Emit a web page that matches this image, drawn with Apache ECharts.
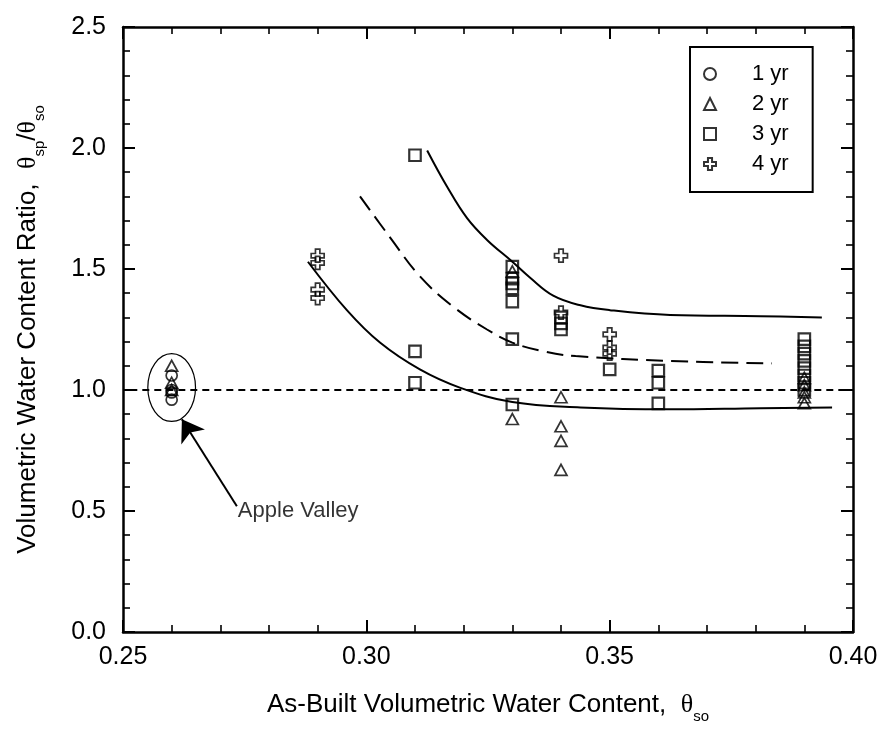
<!DOCTYPE html>
<html>
<head>
<meta charset="utf-8">
<script src="https://cdn.jsdelivr.net/npm/echarts@6/dist/echarts.min.js"></script>
<style>html,body{margin:0;padding:0;background:#fff}#c{width:888px;height:729px}</style>
</head>
<body>
<div id="c"></div>
<script>
// ---- data ----
const xTicks = [0.25, 0.30, 0.35, 0.40];
const yTicks = [0.0, 0.5, 1.0, 1.5, 2.0, 2.5];
const seriesNames = ['1 yr', '2 yr', '3 yr', '4 yr'];

const oneYr = [[0.26,1.06],[0.26,1.00],[0.26,0.99],[0.26,0.96]];
const twoYr = [[0.26,1.10],[0.26,1.03],[0.26,1.00],
  [0.33,1.49],[0.33,0.88],
  [0.34,0.97],[0.34,0.85],[0.34,0.79],[0.34,0.67],
  [0.39,1.05],[0.39,1.02],[0.39,0.99],[0.39,0.97],[0.39,0.945]];
const threeYr = [[0.31,1.97],[0.31,1.16],[0.31,1.03],
  [0.33,1.51],[0.33,1.46],[0.33,1.44],[0.33,1.42],[0.33,1.365],[0.33,1.21],[0.33,0.94],
  [0.34,1.30],[0.34,1.275],[0.34,1.25],
  [0.35,1.085],
  [0.36,1.08],[0.36,1.03],[0.36,0.945],
  [0.39,1.21],[0.39,1.18],[0.39,1.15],[0.39,1.12],[0.39,1.09],[0.39,1.06],[0.39,1.03],[0.39,1.00]];
const fourYr = [[0.29,1.555],[0.29,1.525],[0.29,1.415],[0.29,1.38],
  [0.34,1.555],[0.34,1.32],
  [0.35,1.23],[0.35,1.175],[0.35,1.15]];

const upperCurve = [[0.3125,1.99],[0.3166,1.84],[0.3207,1.71],[0.3248,1.62],[0.33,1.53],[0.3336,1.465],
  [0.3384,1.39],[0.344,1.35],[0.35,1.33],[0.3624,1.31],[0.381,1.305],[0.3936,1.30]];
const middleCurve = [[0.2987,1.80],[0.3049,1.63],[0.311,1.47],[0.3178,1.345],[0.3248,1.25],[0.33,1.196],
  [0.3363,1.16],[0.343,1.14],[0.3624,1.12],[0.3833,1.11]];
const lowerCurve = [[0.288,1.53],[0.296,1.33],[0.3028,1.196],[0.311,1.085],[0.3192,1.01],[0.33,0.95],
  [0.344,0.928],[0.362,0.92],[0.381,0.925],[0.3957,0.928]];
const unityLine = [[0.2515,1.0],[0.3977,1.0]];

const ellipse = [[0.26, 1.01, 0.0049, 0.14]];   // cx, cy, rx, ry (data units)
const arrow = [[0.2734, 0.52], [0.2621, 0.879]];
const annotation = [[0.2736, 0.50, 'Apple Valley']];

// ---- chart ----
const FONT = 'Liberation Sans, Arial, sans-serif';
const chart = echarts.init(document.getElementById('c'), null, {renderer: 'canvas'});
const crossPath = 'path://M3.3,0 H6.7 V3.3 H10 V6.7 H6.7 V10 H3.3 V6.7 H0 V3.3 H3.3 Z';
const markerStyle = {color: 'rgba(0,0,0,0)', borderColor: '#000', borderWidth: 1.7};

function axisCommon(extra) {
  return Object.assign({
    type: 'value',
    axisLine: {show: true, onZero: false, lineStyle: {color: '#000', width: 2.5}},
    axisTick: {show: true, inside: true, length: 12, lineStyle: {color: '#000', width: 2}},
    minorTick: {show: true, splitNumber: 5, length: 7, lineStyle: {color: '#000', width: 1.6}},
    splitLine: {show: false},
    minorSplitLine: {show: false}
  }, extra);
}
const richName = {
  t: {fontFamily: 'Liberation Serif, serif', fontSize: 26, lineHeight: 38, color: '#000'},
  s: {fontSize: 15, lineHeight: 15, verticalAlign: 'bottom', color: '#000', fontFamily: FONT}
};

const option = {
  backgroundColor: '#fff',
  animation: false,
  textStyle: {fontFamily: FONT},
  grid: {left: 123, right: 35, top: 27, bottom: 96, containLabel: false},
  legend: {
    data: seriesNames,
    orient: 'vertical',
    left: 690, top: 47,
    padding: [16, 24, 17, 13],
    itemGap: 8,
    itemWidth: 12, itemHeight: 12,
    borderColor: '#000', borderWidth: 2,
    textStyle: {fontFamily: FONT, fontSize: 22, color: '#000', padding: [0, 0, 0, 31]}
  },
  xAxis: [
    axisCommon({
      min: xTicks[0], max: xTicks[xTicks.length - 1], interval: 0.05, position: 'bottom',
      axisLabel: {color: '#000', fontSize: 25, fontFamily: FONT, margin: 13, formatter: v => v.toFixed(2)},
      name: 'As-Built Volumetric Water Content,  {t|θ}{s|so}',
      nameLocation: 'middle', nameGap: 54,
      nameTextStyle: {color: '#000', fontSize: 26, fontFamily: FONT, lineHeight: 38, rich: richName}
    }),
    axisCommon({
      min: xTicks[0], max: xTicks[xTicks.length - 1], interval: 0.05, position: 'top',
      axisLabel: {show: false}
    })
  ],
  yAxis: [
    axisCommon({
      min: yTicks[0], max: yTicks[yTicks.length - 1], interval: 0.5, position: 'left',
      axisLabel: {color: '#000', fontSize: 25, fontFamily: FONT, margin: 17, formatter: v => v.toFixed(1)},
      name: 'Volumetric Water Content Ratio,  {t|θ}{s|sp}/{t|θ}{s|so}',
      nameLocation: 'middle', nameGap: 76,
      nameTextStyle: {color: '#000', fontSize: 26, fontFamily: FONT, lineHeight: 38, rich: richName}
    }),
    axisCommon({
      min: yTicks[0], max: yTicks[yTicks.length - 1], interval: 0.5, position: 'right',
      axisLabel: {show: false}
    })
  ],
  series: [
    {name: 'unity', type: 'line', data: unityLine, symbol: 'none', silent: true,
      lineStyle: {color: '#000', width: 1.8, type: [7, 5]}},
    {name: 'upper', type: 'line', data: upperCurve, smooth: 0.4, symbol: 'none',
      lineStyle: {color: '#000', width: 2}},
    {name: 'middle', type: 'line', data: middleCurve, smooth: 0.4, symbol: 'none',
      lineStyle: {color: '#000', width: 2, type: [17, 8]}},
    {name: 'lower', type: 'line', data: lowerCurve, smooth: 0.4, symbol: 'none',
      lineStyle: {color: '#000', width: 2}},
    {name: 'ellipse', type: 'custom', data: ellipse, encode: {x: 0, y: 1},
      renderItem: function (params, api) {
        const c = api.coord([api.value(0), api.value(1)]);
        const s = api.size([api.value(2), api.value(3)]);
        return {type: 'ellipse', shape: {cx: c[0], cy: c[1], rx: s[0], ry: s[1]},
          style: {fill: 'none', stroke: '#000', lineWidth: 1.2}};
      }},
    {name: 'arrow', type: 'lines', coordinateSystem: 'cartesian2d',
      data: [{coords: arrow}], symbol: ['none', 'arrow'], symbolSize: 21,
      lineStyle: {color: '#000', width: 2, opacity: 1}},
    {name: 'note', type: 'scatter', data: annotation, symbolSize: 0, silent: true,
      label: {show: true, position: 'right', distance: 0, color: '#000', fontSize: 22, fontFamily: FONT,
        formatter: p => p.data[2]}},
    {name: seriesNames[0], type: 'scatter', data: oneYr, symbol: 'circle', symbolSize: 11, itemStyle: markerStyle},
    {name: seriesNames[1], type: 'scatter', data: twoYr, symbol: 'triangle', symbolSize: [12, 11], itemStyle: markerStyle},
    {name: seriesNames[2], type: 'scatter', data: threeYr, symbol: 'rect', symbolSize: 11.5, itemStyle: Object.assign({}, markerStyle, {borderWidth: 2.2})},
    {name: seriesNames[3], type: 'scatter', data: fourYr, symbol: crossPath, symbolSize: 13, itemStyle: markerStyle}
  ]
};
chart.setOption(option);
</script>
</body>
</html>
